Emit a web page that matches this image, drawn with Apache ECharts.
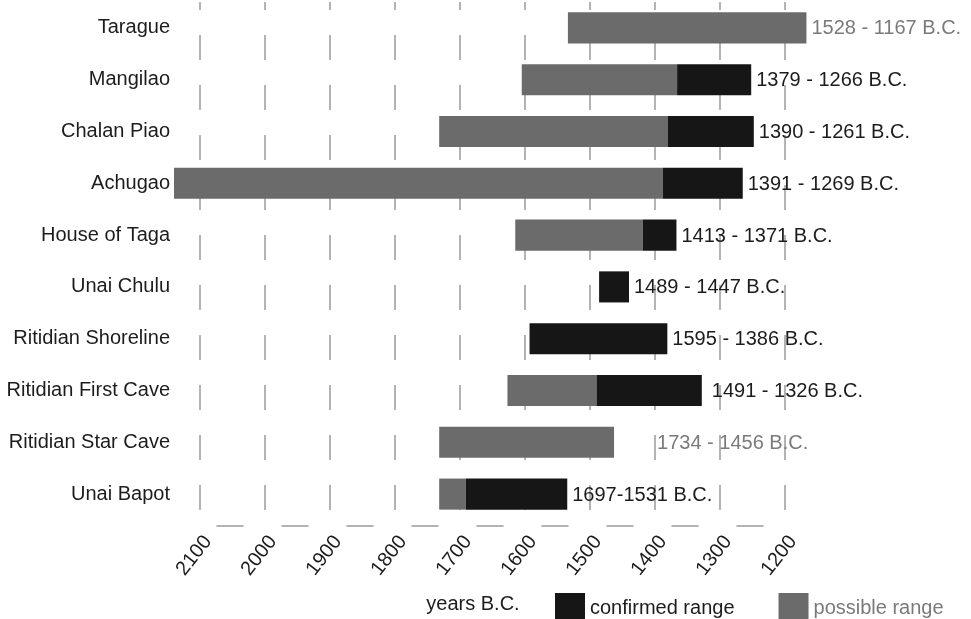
<!DOCTYPE html>
<html>
<head>
<meta charset="utf-8">
<script src="https://cdn.jsdelivr.net/npm/echarts@6/dist/echarts.min.js"></script>
<style>
html,body{margin:0;padding:0;background:#fff;}
#chart{width:971px;height:619px;}
</style>
</head>
<body>
<div id="chart"></div>
<script>
// ---- data ----
var sites = ['Tarague', 'Mangilao', 'Chalan Piao', 'Achugao', 'House of Taga', 'Unai Chulu',
  'Ritidian Shoreline', 'Ritidian First Cave', 'Ritidian Star Cave', 'Unai Bapot'];
var possibleStart = [1534, 1605, 1732, 2140, 1615, null, null, 1627, 1732, 1732];
var possibleEnd   = [1167, 1366, 1380, 1388, 1419, null, null, 1490, 1463, 1691];
var confirmedStart = [null, 1366, 1380, 1388, 1419, 1486, 1593, 1490, null, 1691];
var confirmedEnd   = [null, 1252, 1248, 1265, 1367, 1440, 1381, 1328, null, 1535];
var rangeLabels = ['1528 - 1167 B.C.', '1379 - 1266 B.C.', '1390 - 1261 B.C.', '1391 - 1269 B.C.',
  '1413 - 1371 B.C.', '1489 - 1447 B.C.', '1595 - 1386 B.C.', '1491 - 1326 B.C.',
  '1734 - 1456 B.C.', '1697-1531 B.C.'];
var xTicks = [1200, 1300, 1400, 1500, 1600, 1700, 1800, 1900, 2000, 2100];

// ---- layout / style ----
var FONT = '"Liberation Sans", Arial, sans-serif';
var GRAY = '#6b6b6b', BLACK = '#161616', TEXT = '#1c1c1c', GRAYTEXT = '#7a7a7a';
var labelGapDefault = 5;
var labelGapSpecial = {7: 10, 8: 43};

function buildRange(starts, ends) {
  var out = [];
  for (var i = 0; i < sites.length; i++) {
    if (starts[i] != null && ends[i] != null) out.push([i, starts[i], ends[i]]);
  }
  return out;
}
var labelData = sites.map(function (s, i) {
  var ends = [possibleEnd[i], confirmedEnd[i]].filter(function (v) { return v != null; });
  return [i, Math.min.apply(null, ends), confirmedEnd[i] == null ? 1 : 0];
});

function rectRender(color) {
  return function (params, api) {
    var y = api.value(0);
    var p1 = api.coord([api.value(1), y]);
    var p2 = api.coord([api.value(2), y]);
    var h = api.size([0, 1])[1] * 0.6;
    return {
      type: 'rect',
      shape: { x: Math.min(p1[0], p2[0]), y: p1[1] - h / 2, width: Math.abs(p2[0] - p1[0]), height: h },
      style: { fill: color }
    };
  };
}

var chart = echarts.init(document.getElementById('chart'), null, { renderer: 'canvas' });
chart.setOption({
  animation: false,
  backgroundColor: '#fff',
  textStyle: { fontFamily: FONT },
  grid: { left: 200, right: 186, top: 2, bottom: 98 },
  legend: {
    left: 550, top: 588, itemWidth: 30, itemHeight: 30, itemGap: 44,
    textStyle: { fontFamily: FONT, fontSize: 20 },
    data: [
      { name: 'confirmed range', icon: 'rect', textStyle: { color: TEXT } },
      { name: 'possible range', icon: 'rect', textStyle: { color: GRAYTEXT } }
    ]
  },
  xAxis: {
    type: 'value', inverse: true, min: xTicks[0], max: xTicks[xTicks.length - 1], interval: 100,
    offset: 6,
    name: 'years B.C.', nameLocation: 'middle', nameGap: 68,
    nameTextStyle: { fontSize: 20, color: TEXT, fontFamily: FONT, padding: [0, 39, 0, 0] },
    axisLine: { show: true, lineStyle: { color: '#9a9a9a', width: 1.5, type: [26, 39], dashOffset: 43 } },
    axisTick: { show: false },
    axisLabel: { rotate: 52, fontSize: 20, color: TEXT, fontFamily: FONT, margin: 6,
      verticalAlign: 'top',
      formatter: function (v) { return String(v); } },
    splitLine: { show: true, lineStyle: { color: '#9a9a9a', width: 1.5, type: [25, 25], dashOffset: 17 } }
  },
  yAxis: {
    type: 'category', inverse: true, data: sites,
    axisLine: { show: false }, axisTick: { show: false },
    axisLabel: { fontSize: 20, color: TEXT, fontFamily: FONT, margin: 30 },
    splitLine: { show: false }
  },
  series: [
    {
      name: 'possible range', type: 'custom', itemStyle: { color: GRAY },
      renderItem: rectRender(GRAY), encode: { x: [1, 2], y: 0 },
      data: buildRange(possibleStart, possibleEnd), z: 2
    },
    {
      name: 'confirmed range', type: 'custom', itemStyle: { color: BLACK },
      renderItem: rectRender(BLACK), encode: { x: [1, 2], y: 0 },
      data: buildRange(confirmedStart, confirmedEnd), z: 3
    },
    {
      name: 'labels', type: 'custom', encode: { x: 1, y: 0 }, z: 4,
      renderItem: function (params, api) {
        var i = api.value(0);
        var p = api.coord([api.value(1), i]);
        var gap = labelGapSpecial[i] != null ? labelGapSpecial[i] : labelGapDefault;
        return {
          type: 'text',
          style: {
            x: p[0] + gap, y: p[1] + 1, text: rangeLabels[i],
            fill: api.value(2) ? GRAYTEXT : TEXT,
            font: '20px ' + FONT, textAlign: 'left', textVerticalAlign: 'middle'
          }
        };
      },
      data: labelData
    }
  ]
});
</script>
</body>
</html>
